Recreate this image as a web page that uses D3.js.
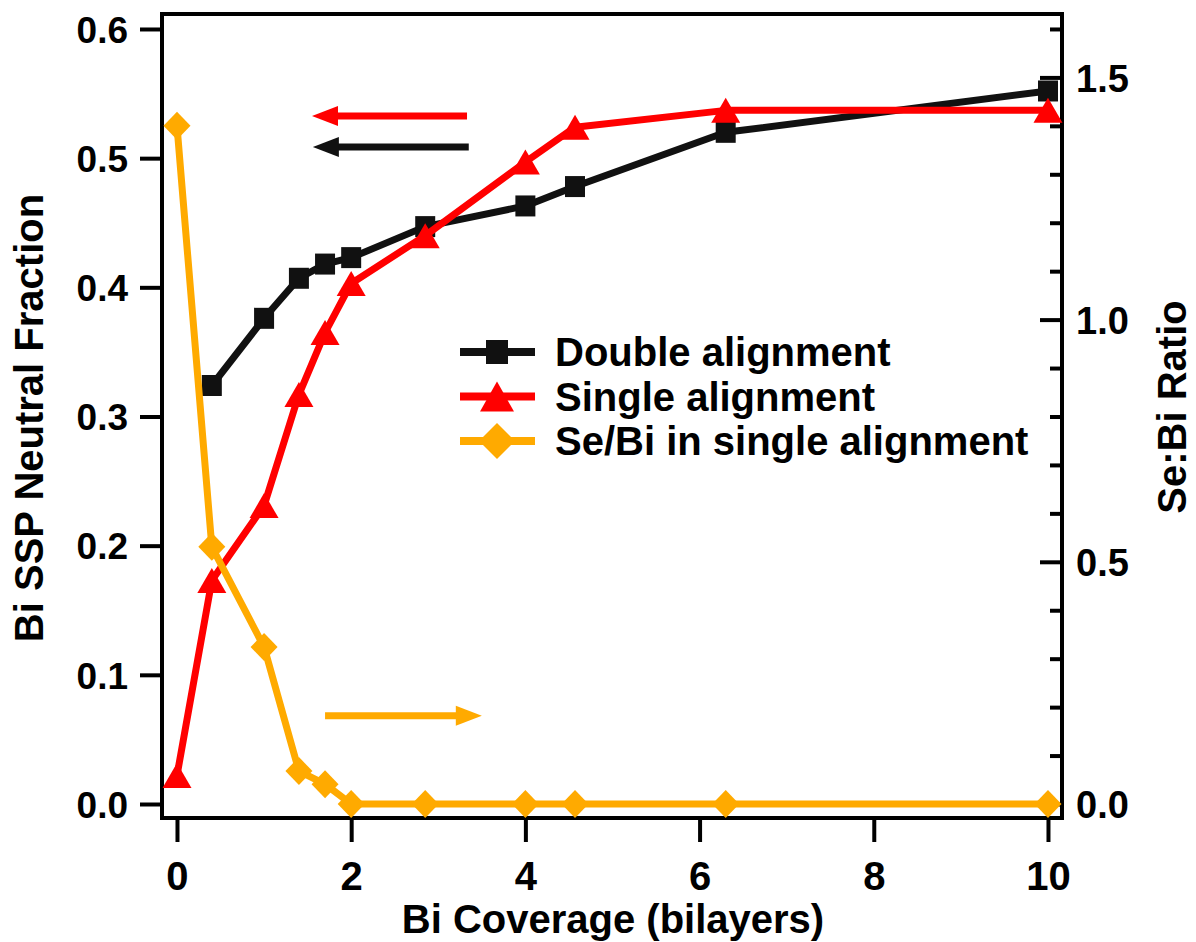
<!DOCTYPE html>
<html>
<head>
<meta charset="utf-8">
<script src="https://cdn.jsdelivr.net/npm/d3@7"></script>
<style>
  html, body { margin: 0; padding: 0; background: #fff; }
  text { font-family: "Liberation Sans", Arial, Helvetica, sans-serif; font-weight: bold; }
</style>
</head>
<body>
<div id="app"></div>
<script>
// coverage in bilayers
const coverage = [0, 0.4, 1.0, 1.4, 1.7, 2.0, 2.85, 4.0, 4.57, 6.3, 10];
// left axis series (neutral fraction)
const doubleAlign = [null, 0.324, 0.376, 0.407, 0.418, 0.423, 0.447, 0.463, 0.478, 0.520, 0.552];
const singleAlign = [0.022, 0.173, 0.231, 0.317, 0.365, 0.403, 0.440, 0.497, 0.524, 0.537, 0.537];
// right axis series (Se:Bi ratio)
const seBiRatio = [1.40, 0.531, 0.324, 0.068, 0.041, 0.0, 0.0, 0.0, 0.0, 0.0, 0.0];

const xTicks = [0, 2, 4, 6, 8, 10];
const yLeftTicks = [0, 0.1, 0.2, 0.3, 0.4, 0.5, 0.6];
const yRightTicks = [0, 0.1, 0.2, 0.3, 0.4, 0.5, 0.6, 0.7, 0.8, 0.9, 1.0, 1.1, 1.2, 1.3, 1.4, 1.5, 1.6];
const yRightMajor = [0, 0.5, 1.0, 1.5];

const legendNames = ["Double alignment", "Single alignment", "Se/Bi in single alignment"];

const w = 1196, h = 942;
const plot = { left: 162, right: 1062, top: 14, bottom: 818 };

const svg = d3.select("#app").append("svg").attr("width", w).attr("height", h);

const x = d3.scaleLinear().domain([-0.172, 10.161]).range([plot.left, plot.right]);
const yL = d3.scaleLinear().domain([-0.01084, 0.6116]).range([plot.bottom, plot.top]);
const yR = d3.scaleLinear().domain([-0.0289, 1.6309]).range([plot.bottom, plot.top]);

const isMajor = (d) => yRightMajor.some((m) => Math.abs(m - d) < 1e-9);

//frame
svg.append("rect")
  .attr("x", plot.left).attr("y", plot.top)
  .attr("width", plot.right - plot.left).attr("height", plot.bottom - plot.top)
  .attr("fill", "none").attr("stroke", "#000").attr("stroke-width", 4);

//left axis
const gL = svg.append("g").attr("transform", `translate(${plot.left},0)`)
  .call(d3.axisLeft(yL).tickValues(yLeftTicks).tickSize(22).tickPadding(12).tickFormat(d3.format(".1f")));
gL.select(".domain").remove();
gL.selectAll("line").attr("stroke-width", 4);
gL.selectAll("text").attr("font-size", 37).attr("fill", "#000").attr("dy", "0.36em");

//bottom axis
const gB = svg.append("g").attr("transform", `translate(0,${plot.bottom})`)
  .call(d3.axisBottom(x).tickValues(xTicks).tickSize(24).tickFormat(d3.format("d")));
gB.select(".domain").remove();
gB.selectAll("line").attr("stroke-width", 4);
gB.selectAll("text").attr("font-size", 40).attr("fill", "#000").attr("dy", null).attr("y", 72);

//right axis, ticks inward
const gR = svg.append("g").attr("transform", `translate(${plot.right},0)`)
  .call(d3.axisRight(yR).tickValues(yRightTicks).tickSizeInner(-22).tickSizeOuter(0).tickPadding(14)
    .tickFormat((d) => (isMajor(d) ? d3.format(".1f")(d) : "")));
gR.select(".domain").remove();
gR.selectAll(".tick line")
  .attr("stroke-width", 4)
  .attr("x2", (d) => (isMajor(d) ? -22 : -12));
gR.selectAll("text").attr("font-size", 38).attr("fill", "#000").attr("dy", "0.36em");

//axis titles
svg.append("text")
  .attr("transform", "translate(43,418) rotate(-90)")
  .attr("text-anchor", "middle").attr("font-size", 40)
  .text("Bi SSP Neutral Fraction");

svg.append("text")
  .attr("transform", "translate(1186,407) rotate(-90)")
  .attr("text-anchor", "middle").attr("font-size", 40)
  .text("Se:Bi Ratio");

svg.append("text")
  .attr("x", 613).attr("y", 933)
  .attr("text-anchor", "middle").attr("font-size", 40)
  .text("Bi Coverage (bilayers)");

//series
const series = [
  { name: legendNames[0], vals: doubleAlign, y: yL, color: "#111111", shape: "square" },
  { name: legendNames[1], vals: singleAlign, y: yL, color: "#ff0000", shape: "triangle" },
  { name: legendNames[2], vals: seBiRatio, y: yR, color: "#ffaa00", shape: "diamond" }
];

const markerPath = (shape, s) => {
  if (shape === "square") return `M${-s.w / 2},${-s.h / 2}h${s.w}v${s.h}h${-s.w}Z`;
  if (shape === "triangle") return `M0,${-s.h / 2}L${s.w / 2},${s.h / 2}L${-s.w / 2},${s.h / 2}Z`;
  return `M0,${-s.h / 2}L${s.w / 2},0L0,${s.h / 2}L${-s.w / 2},0Z`;
};
const markerSize = {
  square: { w: 20, h: 21 },
  triangle: { w: 29, h: 25 },
  diamond: { w: 27, h: 28 }
};
const legendMarkerSize = {
  square: { w: 22, h: 24 },
  triangle: { w: 34, h: 30 },
  diamond: { w: 36, h: 36 }
};

series.forEach((s) => {
  const pts = coverage.map((c, i) => ({ c, v: s.vals[i] })).filter((p) => p.v !== null);
  const line = d3.line().x((p) => x(p.c)).y((p) => s.y(p.v));
  svg.append("path")
    .datum(pts)
    .attr("d", line)
    .attr("fill", "none")
    .attr("stroke", s.color)
    .attr("stroke-width", 7)
    .attr("stroke-linejoin", "round");
  svg.append("g")
    .selectAll("path")
    .data(pts)
    .enter()
    .append("path")
    .attr("transform", (p) => `translate(${x(p.c)},${s.y(p.v)})`)
    .attr("d", markerPath(s.shape, markerSize[s.shape]))
    .attr("fill", s.color);
});

//arrows showing which axis each series uses
const arrows = [
  { from: 3.33, to: 1.55, v: 0.5326, y: yL, color: "#ff0000" },
  { from: 3.35, to: 1.56, v: 0.5086, y: yL, color: "#111111" },
  { from: 1.70, to: 3.50, v: 0.182, y: yR, color: "#ffaa00" }
];
arrows.forEach((a) => {
  const x0 = x(a.from), x1 = x(a.to), yy = a.y(a.v);
  const dir = x1 > x0 ? 1 : -1;
  const headLen = 26;
  svg.append("line")
    .attr("x1", x0).attr("x2", x1 - dir * headLen + dir * 2)
    .attr("y1", yy).attr("y2", yy)
    .attr("stroke", a.color).attr("stroke-width", 7);
  svg.append("path")
    .attr("d", `M${x1},${yy}L${x1 - dir * headLen},${yy - 10}L${x1 - dir * headLen},${yy + 10}Z`)
    .attr("fill", a.color);
});

//legend
const legend = svg.append("g").attr("transform", "translate(460,352)");
series.forEach((s, i) => {
  const row = legend.append("g").attr("transform", `translate(0,${i * 44.5})`);
  row.append("line")
    .attr("x1", 0).attr("x2", 75).attr("y1", 0).attr("y2", 0)
    .attr("stroke", s.color).attr("stroke-width", 8);
  row.append("path")
    .attr("transform", "translate(37,0)")
    .attr("d", markerPath(s.shape, legendMarkerSize[s.shape]))
    .attr("fill", s.color);
  row.append("text")
    .attr("x", 95).attr("y", 0).attr("dy", "0.36em")
    .attr("font-size", 40)
    .text(s.name);
});
</script>
</body>
</html>
